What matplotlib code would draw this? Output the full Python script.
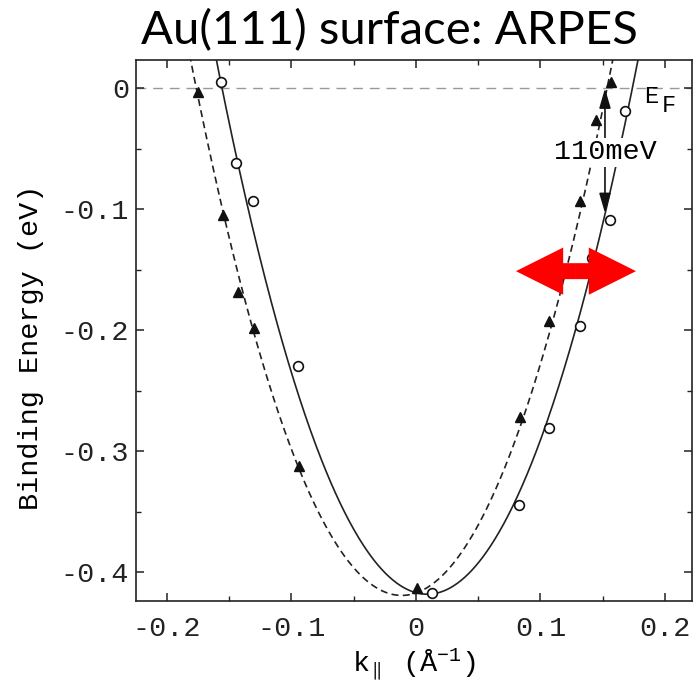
import matplotlib
matplotlib.use("Agg")
import matplotlib.pyplot as plt
import numpy as np
from matplotlib.ticker import MultipleLocator

# ---------------- data ----------------
# open circles (solid band)
k_circ = [-0.157, -0.1446, -0.131, -0.0945, 0.0126, 0.083, 0.107, 0.1317, 0.141, 0.156, 0.168]
E_circ = [0.005, -0.0614, -0.093, -0.229, -0.417, -0.344, -0.281, -0.1965, -0.140, -0.109, -0.019]
# filled triangles (dashed band)
k_tri = [-0.175, -0.155, -0.1427, -0.130, -0.0937, 0.0005, 0.0835, 0.107, 0.132, 0.1446, 0.157]
E_tri = [-0.003, -0.105, -0.168, -0.198, -0.312, -0.413, -0.2714, -0.192, -0.093, -0.026, 0.0055]
# parabolic fit parameters: (k0 [1/A], E0 [eV], curvature [eV A^2])
solid_fit = (0.009, -0.418, 15.4)
dashed_fit = (-0.0115, -0.419, 15.4)

xticks = [-0.2, -0.1, 0.0, 0.1, 0.2]
xticklabels = ["-0.2", "-0.1", "0", "0.1", "0.2"]
yticks = [0.0, -0.1, -0.2, -0.3, -0.4]
yticklabels = ["0", "-0.1", "-0.2", "-0.3", "-0.4"]
xlim = (-0.2249, 0.2217)
ylim = (-0.4236, 0.0235)
splitting = 0.110  # eV
red_arrow_k = (0.0803, 0.1767)
red_arrow_E = -0.151

mono = "Liberation Mono"
plt.rcParams["mathtext.fontset"] = "custom"
plt.rcParams["mathtext.rm"] = mono
plt.rcParams["mathtext.it"] = mono
plt.rcParams["axes.unicode_minus"] = False

fs = 20.5

fig = plt.figure(figsize=(6.98, 6.84), dpi=100)
ax = fig.add_axes([136 / 698, 1 - 601 / 684, (692 - 136) / 698, (601 - 60) / 684])

kk = np.linspace(xlim[0], xlim[1], 600)
for (k0, E0, c), ls in [(solid_fit, "-"), (dashed_fit, (0, (4.2, 2.6)))]:
    ax.plot(kk, E0 + c * (kk - k0) ** 2, color="#222222", lw=1.2, ls=ls, zorder=2)

ax.axhline(0.0, color="#999999", lw=1.0, ls=(0, (7, 5)), zorder=1)

ax.plot(k_circ, E_circ, ls="none", marker="o", ms=7, mfc="white", mec="#111111", mew=1.2, zorder=3)
ax.plot(k_tri, E_tri, ls="none", marker="^", ms=6.5, mfc="#111111", mec="#111111", zorder=3)

ax.set_xlim(*xlim)
ax.set_ylim(*ylim)
ax.set_xticks(xticks)
ax.set_xticklabels(xticklabels)
ax.set_yticks(yticks)
ax.set_yticklabels(yticklabels)
ax.xaxis.set_minor_locator(MultipleLocator(0.05))
ax.yaxis.set_minor_locator(MultipleLocator(0.05))
ax.tick_params(which="both", direction="in", top=True, right=True, colors="#222222")
ax.tick_params(which="major", length=6, width=1.1)
ax.tick_params(which="minor", length=3.5, width=1.0)
ax.tick_params(axis="x", pad=11, labelsize=fs)
ax.tick_params(axis="y", pad=5, labelsize=fs)
for lab in ax.get_xticklabels() + ax.get_yticklabels():
    lab.set_fontfamily(mono)
for s in ax.spines.values():
    s.set_linewidth(1.2)
    s.set_color("#222222")

ax.set_ylabel("Binding Energy (eV)", fontfamily=mono, fontsize=fs)
ax.yaxis.set_label_coords(-0.165, 0.468)
ax.set_xlabel(r"k$_{\parallel}$ (Å$^{-1}$)", fontfamily=mono, fontsize=fs)
ax.xaxis.set_label_coords(0.5, -0.085)

# E_F label
ax.text(0.1835, -0.0065, "E", fontfamily=mono, fontsize=17, ha="left", va="center")
ax.text(0.1975, -0.0145, "F", fontfamily=mono, fontsize=17, ha="left", va="center")

# 110 meV splitting arrow
ak = 0.1518
ax.annotate("", xy=(ak, 0.0), xytext=(ak, -splitting + 0.007),
            arrowprops=dict(arrowstyle="<|-|>,head_length=1.2,head_width=0.35",
                            mutation_scale=10, color="#111111", lw=1.2,
                            shrinkA=0, shrinkB=0), zorder=4)
ax.text(ak, -0.0526, "110meV", fontfamily=mono, fontsize=fs, ha="center", va="center",
        bbox=dict(facecolor="white", edgecolor="none", pad=1.0), zorder=5)

# red double arrow
kc = 0.5 * (red_arrow_k[0] + red_arrow_k[1])
for kend in red_arrow_k:
    ax.annotate("", xy=(kend, red_arrow_E), xytext=(kc, red_arrow_E),
                arrowprops=dict(arrowstyle="simple,head_length=3.4,head_width=3.4,tail_width=1.15",
                                mutation_scale=10, color="#ff0000", lw=0,
                                shrinkA=0, shrinkB=0), zorder=6)

fig.text(389 / 698, 1 - 31 / 684, "Au(111) surface: ARPES", fontfamily="Lato", fontsize=34,
         ha="center", va="center")

fig.savefig("out.png", dpi=100)
